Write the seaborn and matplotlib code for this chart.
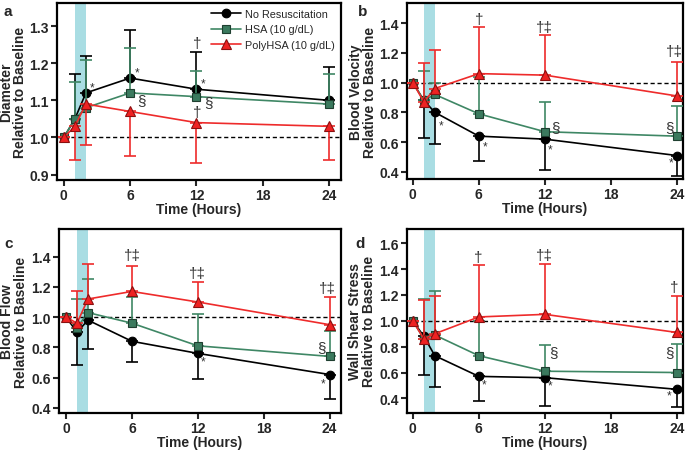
import numpy as np
import pandas as pd
import matplotlib
matplotlib.use("Agg")
import matplotlib.pyplot as plt
import seaborn as sns

sns.set_theme(style="ticks")
plt.rcParams['font.family'] = ['Liberation Sans', 'DejaVu Sans']

# ---------------- data ----------------
time = [0, 1, 2, 6, 12, 24]
series_names = ["No Resuscitation", "HSA (10 g/dL)", "PolyHSA (10 g/dL)"]

# Panel a: Diameter
dia_none = [1.00, 1.05, 1.12, 1.16, 1.13, 1.10]
dia_none_err = [1.00, 1.17, 1.22, 1.29, 1.23, 1.19]
dia_hsa = [1.00, 1.05, 1.08, 1.12, 1.11, 1.09]
dia_hsa_err = [1.00, 1.15, 1.21, 1.24, 1.18, 1.17]
dia_poly = [1.00, 1.03, 1.09, 1.07, 1.04, 1.03]
dia_poly_err = [1.00, 0.94, 0.98, 0.95, 0.93, 0.94]

# Panel b: Blood velocity
vel_none = [1.00, 0.88, 0.80, 0.64, 0.62, 0.51]
vel_none_err = [1.00, 0.63, 0.59, 0.47, 0.41, 0.37]
vel_hsa = [1.00, 0.88, 0.92, 0.79, 0.67, 0.64]
vel_hsa_err = [1.00, 1.08, 1.00, 1.04, 0.87, 0.84]
vel_poly = [1.00, 0.87, 0.96, 1.06, 1.05, 0.91]
vel_poly_err = [1.00, 1.13, 1.22, 1.37, 1.32, 1.14]

# Panel c: Blood flow
flow_none = [1.00, 0.90, 0.98, 0.84, 0.76, 0.62]
flow_none_err = [1.00, 0.68, 0.79, 0.70, 0.59, 0.46]
flow_hsa = [1.00, 0.93, 1.03, 0.96, 0.81, 0.74]
flow_hsa_err = [1.00, 1.12, 1.25, 1.13, 1.02, 0.91]
flow_poly = [1.00, 0.96, 1.12, 1.17, 1.10, 0.95]
flow_poly_err = [1.00, 1.17, 1.35, 1.34, 1.23, 1.13]

# Panel d: Wall shear stress
wss_none = [1.00, 0.88, 0.73, 0.57, 0.56, 0.47]
wss_none_err = [1.00, 0.58, 0.49, 0.38, 0.34, 0.33]
wss_hsa = [1.00, 0.86, 0.89, 0.73, 0.61, 0.60]
wss_hsa_err = [1.00, 1.17, 1.23, 1.00, 0.81, 0.82]
wss_poly = [1.00, 0.86, 0.90, 1.03, 1.05, 0.91]
wss_poly_err = [1.00, 1.16, 1.19, 1.43, 1.44, 1.19]

ylabels = ["Diameter\nRelative to Baseline", "Blood Velocity\nRelative to Baseline",
           "Blood Flow\nRelative to Baseline", "Wall Shear Stress\nRelative to Baseline"]
panel_letters = ["a", "b", "c", "d"]
x_ticks = [0, 6, 12, 18, 24]
y_ticks = [[0.9, 1.0, 1.1, 1.2, 1.3],
           [0.4, 0.6, 0.8, 1.0, 1.2, 1.4],
           [0.4, 0.6, 0.8, 1.0, 1.2, 1.4],
           [0.4, 0.6, 0.8, 1.0, 1.2, 1.4, 1.6]]

# annotations: (text, x, y)
annots = [
    [("*", 2.6, 1.135), ("*", 6.65, 1.175), ("*", 12.6, 1.145),
     ("§", 7.0, 1.10), ("§", 13.05, 1.095), ("†", 12.05, 1.255), ("†", 12.05, 1.068)],
    [("†", 6.0, 1.425), ("†‡", 12.0, 1.37), ("†‡", 23.8, 1.21),
     ("*", 2.55, 0.715), ("*", 6.55, 0.57), ("*", 12.5, 0.55), ("*", 23.45, 0.465),
     ("§", 12.95, 0.70), ("§", 23.3, 0.70)],
    [("†‡", 6.0, 1.41), ("†‡", 12.0, 1.29), ("†‡", 23.8, 1.19),
     ("*", 12.45, 0.705), ("*", 23.4, 0.56), ("§", 23.3, 0.80)],
    [("†", 5.9, 1.49), ("†‡", 12.0, 1.51), ("†", 23.8, 1.26),
     ("*", 6.45, 0.51), ("*", 12.5, 0.50), ("*", 23.25, 0.42),
     ("§", 12.8, 0.755), ("§", 23.3, 0.755)],
]

panels = [
    (dia_none, dia_none_err, dia_hsa, dia_hsa_err, dia_poly, dia_poly_err),
    (vel_none, vel_none_err, vel_hsa, vel_hsa_err, vel_poly, vel_poly_err),
    (flow_none, flow_none_err, flow_hsa, flow_hsa_err, flow_poly, flow_poly_err),
    (wss_none, wss_none_err, wss_hsa, wss_hsa_err, wss_poly, wss_poly_err),
]

# ---------------- style ----------------
line_colors = ["#000000", "#3f8765", "#ee2b2b"]
face_colors = ["#000000", "#3b7a5e", "#ee2222"]
edge_colors = ["#000000", "#1f3f30", "#8a1010"]
markers = ["o", "s", "^"]
msizes = [6.2, 5.8, 7.3]

axes_pos = [
    [0.083, 0.600, 0.415, 0.391],
    [0.594, 0.602, 0.403, 0.389],
    [0.0866, 0.084, 0.4105, 0.407],
    [0.594, 0.085, 0.403, 0.406],
]
ylims = [(0.886, 1.362), (0.353, 1.534), (0.365, 1.583), (0.29, 1.71)]
xlims = [(-0.63, 25.1), (-0.54, 24.55), (-0.61, 25.0), (-0.54, 24.55)]
ylabel_x = [-0.106, -0.108, -0.112, -0.112]
letter_pos = [(3, 12), (358, 12), (4, 244), (355, 244)]

fig = plt.figure(figsize=(6.85, 4.52), dpi=100)

for i in range(4):
    ax = fig.add_axes(axes_pos[i])
    ax.axvspan(1, 2, color="#a9dde3", zorder=0, lw=0)
    ax.axhline(1.0, color="black", ls=(0, (3, 2)), lw=1.0, zorder=1)
    vals = panels[i]
    for k in range(3):
        y = np.array(vals[2 * k])
        yend = np.array(vals[2 * k + 1])
        up = np.clip(yend - y, 0, None)
        dn = np.clip(y - yend, 0, None)
        ax.errorbar(time, y, yerr=[dn, up], fmt="none", ecolor=line_colors[k],
                    elinewidth=1.2, capsize=4, capthick=1.2, zorder=2 + k)
        df = pd.DataFrame({"Time": time, "Value": y})
        sns.lineplot(data=df, x="Time", y="Value", ax=ax, color=line_colors[k],
                     marker=markers[k], markersize=msizes[k],
                     markerfacecolor=face_colors[k], markeredgecolor=edge_colors[k],
                     markeredgewidth=0.8, lw=1.2, label=series_names[k] if i == 0 else None,
                     zorder=3 + k, legend=(i == 0))
    for (t, xx, yy) in annots[i]:
        fs = 8.5 if t == "*" else 11
        ax.text(xx, yy, t, ha="center", va="center", fontsize=fs, color="#333333", zorder=8)
    ax.set_xlim(*xlims[i])
    ax.set_ylim(*ylims[i])
    ax.set_xticks(x_ticks)
    ax.set_yticks(y_ticks[i])
    ax.set_yticklabels([f"{v:.1f}" for v in y_ticks[i]])
    ax.tick_params(axis="both", direction="out", length=4, width=1.5, labelsize=10, pad=2)
    for lab in ax.get_xticklabels() + ax.get_yticklabels():
        lab.set_fontweight("bold")
    for sp in ax.spines.values():
        sp.set_linewidth(1.6)
        sp.set_color("black")
    ax.set_xlabel("Time (Hours)", fontsize=10, fontweight="bold", labelpad=0)
    ax.set_ylabel(ylabels[i], fontsize=10, fontweight="bold", linespacing=1.0)
    ax.yaxis.set_label_coords(ylabel_x[i], 0.5)
    fig.text(letter_pos[i][0] / 685, 1 - letter_pos[i][1] / 452, panel_letters[i],
             fontsize=11, fontweight="bold", ha="left", va="center")
    if i == 0:
        ax.legend(loc="upper right", frameon=False, fontsize=7.8, handlelength=2.8,
                  handletextpad=0.4, borderaxespad=0.15, labelspacing=0.5,
                  bbox_to_anchor=(1.0, 1.0))

fig.savefig("out.png", dpi=100)
